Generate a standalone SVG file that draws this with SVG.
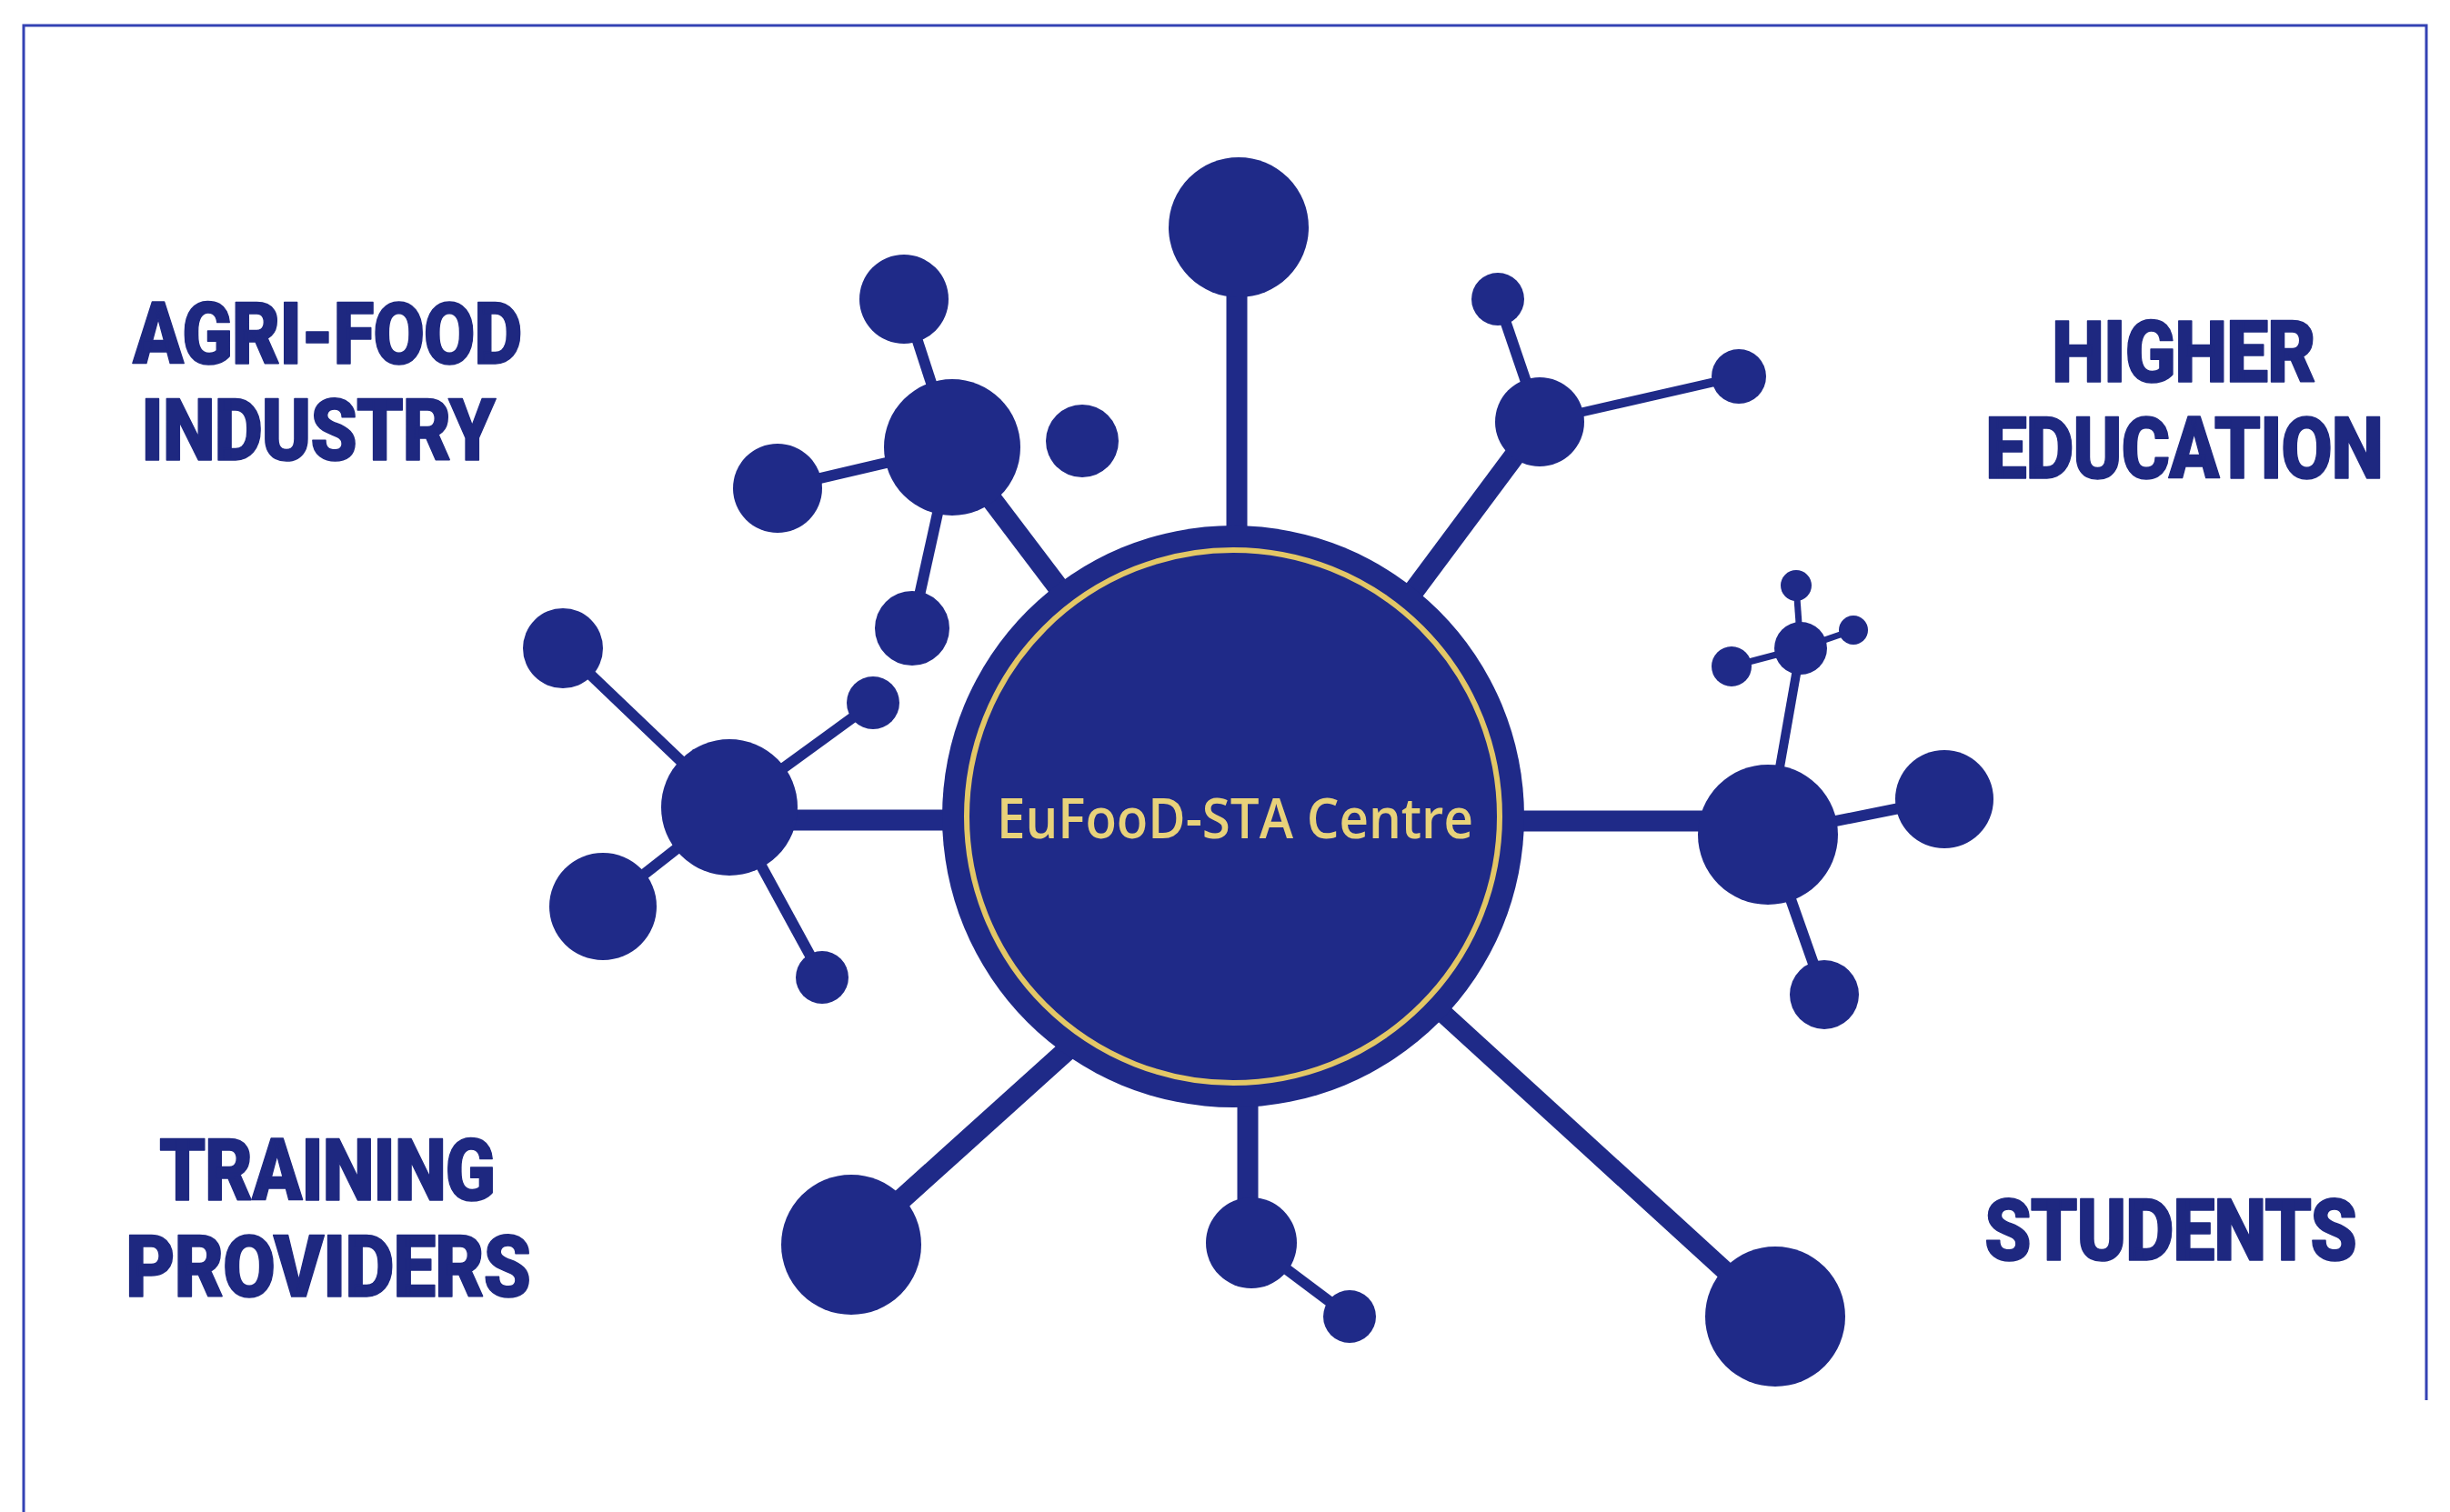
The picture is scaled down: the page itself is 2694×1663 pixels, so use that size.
<svg xmlns="http://www.w3.org/2000/svg" width="2694" height="1663" viewBox="0 0 2694 1663">
<style>
.n{fill:#1f2a88}
.c{stroke:#1f2a88;stroke-linecap:butt;fill:none}
.w1{stroke-width:23}
.w2{stroke-width:12}
.w3{stroke-width:7}
.lbl{font-family:Roboto,"Liberation Sans",Arial,sans-serif;font-weight:900;font-size:95px;letter-spacing:-1.5px;fill:#1e2880;stroke:#1e2880;stroke-width:1.5;stroke-linejoin:round}
.ctr{font-family:"Open Sans","Noto Sans","Liberation Sans",sans-serif;font-weight:600;font-size:62px;fill:#e8d27a}
</style>
<rect width="2694" height="1663" fill="#ffffff"/>
<path d="M26,1663 V28 H2668 V1540" fill="none" stroke="#3442b4" stroke-width="3"/>

<g id="connectors">
  <line class="c w1" x1="1360" y1="250" x2="1360" y2="620"/>
  <line class="c w1" x1="1047" y1="492" x2="1250" y2="760"/>
  <line class="c w1" x1="1693" y1="464" x2="1480" y2="750"/>
  <line class="c w1" x1="802" y1="902" x2="1100" y2="902"/>
  <line class="c w1" x1="1600" y1="903" x2="1944" y2="903"/>
  <line class="c w1" x1="936" y1="1369" x2="1190" y2="1140"/>
  <line class="c w1" x1="1372" y1="1150" x2="1372" y2="1367"/>
  <line class="c" stroke-width="21" x1="1560" y1="1090" x2="1952" y2="1448"/>

  <line class="c w2" x1="1047" y1="492" x2="994" y2="329"/>
  <line class="c w2" x1="1047" y1="492" x2="855" y2="537"/>
  <line class="c w2" x1="1047" y1="492" x2="1003" y2="691"/>

  <line class="c w2" x1="802" y1="888" x2="619" y2="713"/>
  <line class="c w2" x1="802" y1="888" x2="960" y2="773"/>
  <line class="c w2" x1="802" y1="888" x2="663" y2="997"/>
  <line class="c w2" x1="802" y1="888" x2="904" y2="1075"/>

  <line class="c w2" x1="1693" y1="464" x2="1647" y2="329"/>
  <line class="c" stroke-width="10" x1="1693" y1="464" x2="1912" y2="414"/>

  <line class="c" stroke-width="10" x1="1944" y1="918" x2="1980" y2="713"/>
  <line class="c w2" x1="1944" y1="918" x2="2138" y2="879"/>
  <line class="c w2" x1="1944" y1="918" x2="2006" y2="1094"/>
  <line class="c w3" x1="1980" y1="713" x2="1975" y2="644"/>
  <line class="c w3" x1="1980" y1="713" x2="2038" y2="693"/>
  <line class="c w3" x1="1980" y1="713" x2="1904" y2="733"/>

  <line class="c w2" x1="1376" y1="1367" x2="1484" y2="1448"/>
</g>

<g id="centre">
  <circle class="n" cx="1356" cy="898" r="320"/>
  <circle cx="1356" cy="898" r="293" fill="none" stroke="#e3c766" stroke-width="6"/>
  <text class="ctr" x="1096" y="922" textLength="524" lengthAdjust="spacingAndGlyphs">EuFooD-STA Centre</text>
</g>

<g id="node-top">
  <circle class="n" cx="1362" cy="250" r="77"/>
</g>

<g id="cluster-top-left">
  <circle class="n" cx="1047" cy="492" r="75"/>
  <circle class="n" cx="994" cy="329" r="49"/>
  <circle class="n" cx="855" cy="537" r="49"/>
  <circle class="n" cx="1190" cy="485" r="40"/>
  <circle class="n" cx="1003" cy="691" r="41"/>
</g>

<g id="cluster-left">
  <circle class="n" cx="802" cy="888" r="75"/>
  <circle class="n" cx="619" cy="713" r="44"/>
  <circle class="n" cx="960" cy="773" r="29"/>
  <circle class="n" cx="663" cy="997" r="59"/>
  <circle class="n" cx="904" cy="1075" r="29"/>
</g>

<g id="cluster-top-right">
  <circle class="n" cx="1693" cy="464" r="49"/>
  <circle class="n" cx="1647" cy="329" r="29"/>
  <circle class="n" cx="1912" cy="414" r="30"/>
</g>

<g id="cluster-right">
  <circle class="n" cx="1944" cy="918" r="77"/>
  <circle class="n" cx="1980" cy="713" r="29"/>
  <circle class="n" cx="1975" cy="644" r="17"/>
  <circle class="n" cx="2038" cy="693" r="16"/>
  <circle class="n" cx="1904" cy="733" r="22"/>
  <circle class="n" cx="2138" cy="879" r="54"/>
  <circle class="n" cx="2006" cy="1094" r="38"/>
</g>

<g id="node-bottom-left">
  <circle class="n" cx="936" cy="1369" r="77"/>
</g>

<g id="cluster-bottom">
  <circle class="n" cx="1376" cy="1367" r="50"/>
  <circle class="n" cx="1484" cy="1448" r="29"/>
</g>

<g id="node-bottom-right">
  <circle class="n" cx="1952" cy="1448" r="77"/>
</g>

<g id="label-agri-food" transform="scale(0.8,1)">
  <text class="lbl" x="182.5" y="400" textLength="534" lengthAdjust="spacingAndGlyphs">AGRI-FOOD</text>
  <text class="lbl" x="193.8" y="506" textLength="486" lengthAdjust="spacingAndGlyphs">INDUSTRY</text>
</g>

<g id="label-higher-education" transform="scale(0.8,1)">
  <text class="lbl" x="2820" y="420" textLength="362" lengthAdjust="spacingAndGlyphs">HIGHER</text>
  <text class="lbl" x="2728.8" y="526" textLength="546" lengthAdjust="spacingAndGlyphs">EDUCATION</text>
</g>

<g id="label-training-providers" transform="scale(0.8,1)">
  <text class="lbl" x="218.8" y="1320" textLength="461" lengthAdjust="spacingAndGlyphs">TRAINING</text>
  <text class="lbl" x="172.5" y="1426" textLength="556" lengthAdjust="spacingAndGlyphs">PROVIDERS</text>
</g>

<g id="label-students" transform="scale(0.8,1)">
  <text class="lbl" x="2727.5" y="1386" textLength="511" lengthAdjust="spacingAndGlyphs">STUDENTS</text>
</g>
</svg>
